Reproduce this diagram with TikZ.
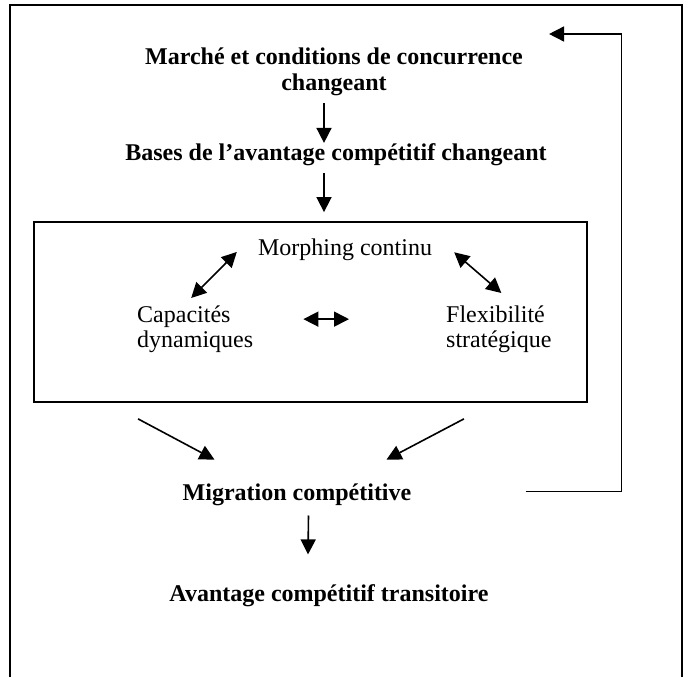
\documentclass[tikz,border=0pt]{standalone}
\usepackage{fontspec}
\setmainfont{Liberation Serif}
\usepackage{tikz}
\usetikzlibrary{scopes,arrows.meta}
\tikzset{
  mytitle/.style={inner sep=0pt,align=center,font=\fontsize{24}{26}\selectfont\bfseries},
  mytext/.style={inner sep=0pt,align=left,font=\fontsize{24}{25}\selectfont},
  myframe/.style={draw,line width=1.8pt},
  route/.style={-{Triangle[width=15pt,length=15pt]},line width=1.6pt},
  dblroute/.style={{Triangle[width=15pt,length=15pt]}-{Triangle[width=15pt,length=15pt]},line width=1.6pt}
}

\begin{document}
\begin{tikzpicture}[x=1pt,y=-1pt]
  \useasboundingbox[fill=white] (0,0) rectangle (686,677);
  \draw[myframe] (10,677) -- (10,5) -- (682,5) -- (682,677);
  \node[myframe,inner sep=0pt,minimum width=553pt,minimum height=180pt] (core) at (310.5,312) {};
  \node[mytitle,anchor=north] (mkt) at (334,48) {Marché et conditions de concurrence\\changeant};
  \node[mytitle,anchor=base] (bases) at (336,160) {Bases de l’avantage compétitif changeant};
  \node[mytext,anchor=base] (morph) at (345,255) {Morphing continu};
  \node[mytext,anchor=north west] (capa) at (137,306) {Capacités\\dynamiques};
  \node[mytext,anchor=north west] (flex) at (446,306) {Flexibilité\\stratégique};
  \node[mytitle,anchor=base] (migr) at (297,500) {Migration compétitive};
  \node[mytitle,anchor=base] (avant) at (329,601) {Avantage compétitif transitoire};
  {[route]
    \draw[shorten <=7pt] ([xshift=-12pt]bases.north |- mkt.south) -- ([xshift=-12pt]bases.north);
    \draw[shorten <=8pt,shorten >=9pt] ([xshift=-12pt]bases.south) -- ([xshift=-12pt]bases.south |- core.north);
    \draw ([xshift=105pt,yshift=-16pt]core.south west) -- ([xshift=32pt,yshift=23.5pt]migr.north west);
    \draw ([xshift=-124pt,yshift=-16pt]core.south east) -- ([xshift=-25pt,yshift=23.5pt]migr.north east);
    \draw ([xshift=11.5pt,yshift=-10pt]migr.south) -- ([xshift=-21pt,yshift=29.5pt]avant.north);
    \draw ([xshift=114pt,yshift=3pt]migr.east) -- ++(96,0) |- ([xshift=26pt,yshift=14pt]mkt.north east);
  }
  {[dblroute]
    \draw ([xshift=-4pt,yshift=8pt]capa.north) -- ([xshift=-21pt,yshift=-2.7pt]morph.west);
    \draw ([xshift=22pt,yshift=-3pt]morph.east) -- ([xshift=2.5pt,yshift=13pt]flex.north);
    \draw ([xshift=50pt,yshift=10.5pt]capa.east) -- ([xshift=-97pt,yshift=10.5pt]flex.west);
  }
\end{tikzpicture}
\end{document}
